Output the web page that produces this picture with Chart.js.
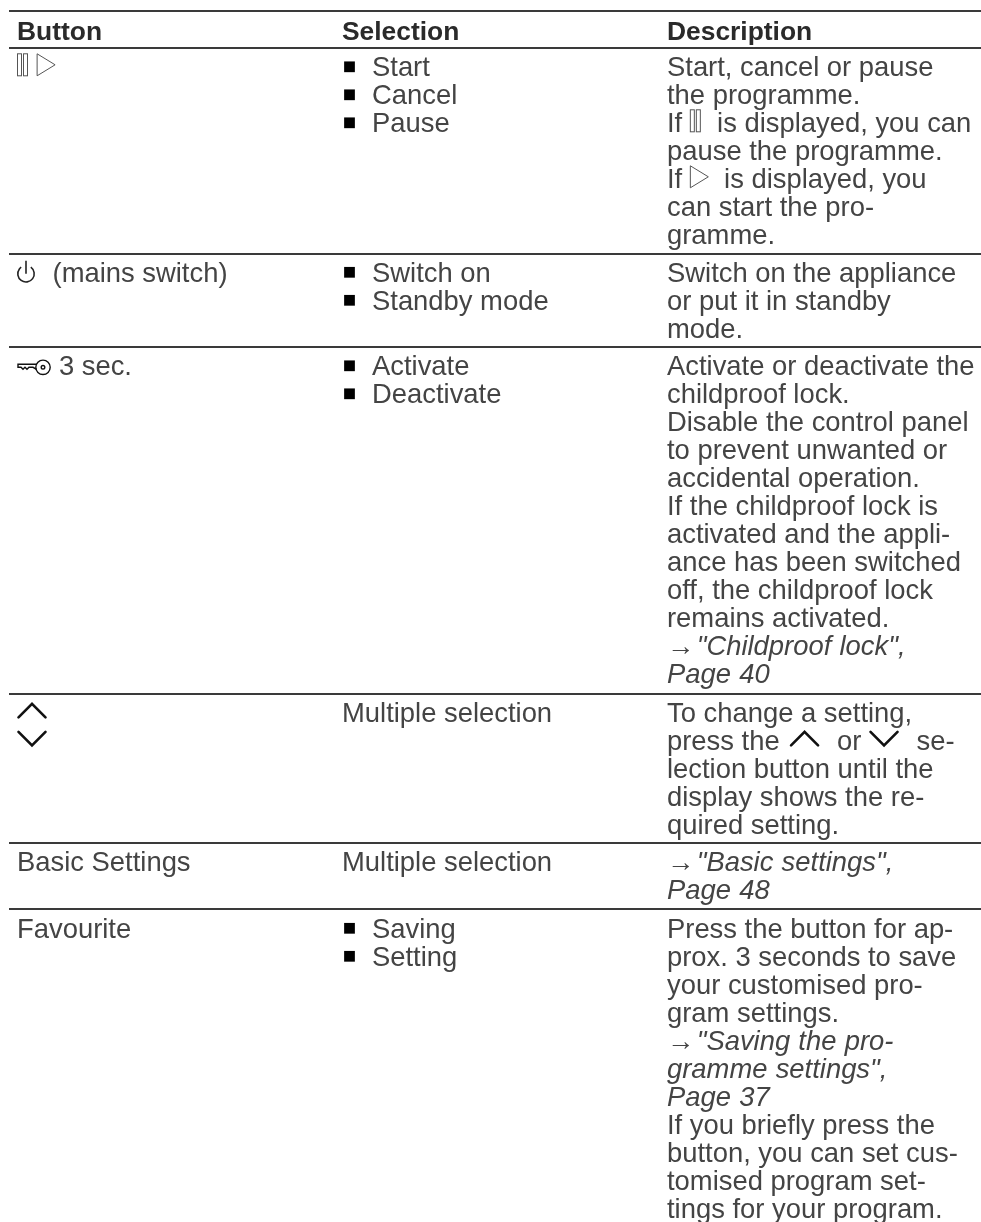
<!DOCTYPE html>
<html>
<head>
<meta charset="utf-8">
<title>Buttons</title>
<script src="https://cdn.jsdelivr.net/npm/chart.js@4"></script>
<style>
  html, body { margin: 0; padding: 0; background: #fff; }
  canvas { display: block; }
</style>
</head>
<body>
<canvas id="table" width="981" height="1222"></canvas>
<script>
const headers = ['Button', 'Selection', 'Description'];

const buttons = [
  ['{pause} {play}'],
  ['{power}  \u200a(mains switch)'],
  ['{key} \u200a3 sec.'],
  ['{up}', '{down}'],
  ['Basic Settings'],
  ['Favourite']
];

const selections = [
  ['Start', 'Cancel', 'Pause'],
  ['Switch on', 'Standby mode'],
  ['Activate', 'Deactivate'],
  ['Multiple selection'],
  ['Multiple selection'],
  ['Saving', 'Setting']
];

const descriptions = [
  ['Start, cancel or pause', 'the programme.', 'If {pause}  is displayed, you can', 'pause the programme.', 'If {play}  is displayed, you', 'can start the pro-', 'gramme.'],
  ['Switch on the appliance', 'or put it in standby', 'mode.'],
  ['Activate or deactivate the', 'childproof lock.', 'Disable the control panel', 'to prevent unwanted or', 'accidental operation.', 'If the childproof lock is', 'activated and the appli-', 'ance has been switched', 'off, the childproof lock', 'remains activated.', '\u2192\u200a"Childproof lock",', 'Page 40'],
  ['To change a setting,', 'press the \u200a{up}  \u200aor {down}  \u200ase-', 'lection button until the', 'display shows the re-', 'quired setting.'],
  ['\u2192\u200a"Basic settings",', 'Page 48'],
  ['Press the button for ap-', 'prox. 3 seconds to save', 'your customised pro-', 'gram settings.', '\u2192\u200a"Saving the pro-', 'gramme settings",', 'Page 37', 'If you briefly press the', 'button, you can set cus-', 'tomised program set-', 'tings for your program.']
];

const linkLines = ['\u2192\u200a"Childproof lock",', 'Page 40', '\u2192\u200a"Basic settings",', 'Page 48', '\u2192\u200a"Saving the pro-', 'gramme settings",', 'Page 37'];

// layout
const W = 981, H = 1222;
const RULES = [11, 48, 253.5, 347, 693.5, 843, 909.5];
const PITCH = 28, FIRST = 28.3;
const COL = [17, 342, 667];
const BULLET_X = 349.5, BULLET_TEXT_X = 372;
const FONT = '"Liberation Sans", sans-serif';
const INK = '#444';

const textPoints = [];
const bulletPoints = [];
headers.forEach((t, c) => textPoints.push({ x: COL[c], y: RULES[0] + 29, text: t, head: true }));
descriptions.forEach((d, r) => {
  const base = (i) => RULES[r + 1] + FIRST + i * PITCH;
  buttons[r].forEach((t, i) => textPoints.push({ x: COL[0], y: base(i), text: t }));
  selections[r].forEach((t, i) => {
    const bulleted = selections[r].length > 1;
    textPoints.push({ x: bulleted ? BULLET_TEXT_X : COL[1], y: base(i), text: t });
    if (bulleted) bulletPoints.push({ x: BULLET_X, y: base(i) - 9.5 });
  });
  d.forEach((t, i) => textPoints.push({ x: COL[2], y: base(i), text: t }));
});

// little glyphs that have no font character, origin is left end of the baseline
const icons = {
  pause: { w: 12, draw(c) {
    c.lineWidth = 1;
    c.strokeStyle = '#555';
    c.strokeRect(0.5, -22.5, 4, 22);
    c.strokeRect(6.5, -22.5, 4, 22);
  } },
  play: { w: 19, draw(c) {
    c.lineWidth = 1;
    c.strokeStyle = '#555';
    c.beginPath();
    c.moveTo(0.5, -22.5); c.lineTo(18.5, -11.5); c.lineTo(0.5, -0.5); c.closePath();
    c.stroke();
  } },
  power: { w: 18, draw(c) {
    c.lineWidth = 1.6;
    c.strokeStyle = '#222';
    c.beginPath();
    c.arc(9, -8, 8.2, -Math.PI * 0.3, Math.PI * 1.3);
    c.stroke();
    c.beginPath();
    c.moveTo(9, -21); c.lineTo(9, -8);
    c.stroke();
  } },
  key: { w: 32, draw(c) {
    c.lineWidth = 1.4;
    c.strokeStyle = '#111';
    c.beginPath(); c.arc(26, -8, 7.2, 0, Math.PI * 2); c.stroke();
    c.beginPath(); c.arc(26, -8, 1.8, 0, Math.PI * 2); c.stroke();
    c.beginPath();
    c.moveTo(19.5, -11); c.lineTo(1, -11); c.lineTo(1, -8); c.lineTo(4, -8); c.lineTo(6, -6); c.lineTo(8, -8);
    c.lineTo(10, -6); c.lineTo(12, -8); c.lineTo(16, -8); c.lineTo(19.5, -6);
    c.stroke();
  } },
  up: { w: 30, draw(c) {
    c.lineWidth = 2.6;
    c.strokeStyle = '#111';
    c.lineCap = 'round';
    c.beginPath();
    c.moveTo(1.5, -4.5); c.lineTo(15, -18); c.lineTo(28.5, -4.5);
    c.stroke();
  } },
  down: { w: 30, draw(c) {
    c.lineWidth = 2.6;
    c.strokeStyle = '#111';
    c.lineCap = 'round';
    c.beginPath();
    c.moveTo(1.5, -18); c.lineTo(15, -4.5); c.lineTo(28.5, -18);
    c.stroke();
  } }
};

const cellText = {
  id: 'cellText',
  afterDatasetsDraw(chart) {
    const c = chart.ctx;
    const meta = chart.getDatasetMeta(0);
    c.save();
    c.textBaseline = 'alphabetic';
    meta.data.forEach((el, i) => {
      const p = textPoints[i];
      const italic = linkLines.includes(p.text);
      c.font = p.head ? 'bold 26.4px ' + FONT : (italic ? 'italic ' : '') + '27.4px ' + FONT;
      c.wordSpacing = p.head ? '0px' : '0.6px';
      c.fillStyle = p.head ? '#2a2a2a' : INK;
      let x = el.x;
      p.text.split(/(\{\w+\})/).filter(Boolean).forEach((part) => {
        const m = part.match(/^\{(\w+)\}$/);
        if (m) {
          const icon = icons[m[1]];
          c.save();
          c.translate(x, el.y);
          icon.draw(c);
          c.restore();
          x += icon.w;
        } else {
          c.fillText(part, x, el.y);
          x += c.measureText(part).width;
        }
      });
    });
    c.restore();
  }
};

new Chart(document.getElementById('table'), {
  type: 'scatter',
  data: {
    datasets: [
      { data: textPoints, pointRadius: 0, pointHoverRadius: 0 },
      { data: bulletPoints, pointStyle: 'rect', pointRadius: 7.6, pointHoverRadius: 7.6, backgroundColor: '#000', borderWidth: 0 }
    ]
  },
  options: {
    responsive: false,
    animation: false,
    events: [],
    layout: { autoPadding: false, padding: { left: 9, right: 0, top: 0, bottom: 0 } },
    plugins: { legend: { display: false }, tooltip: { enabled: false } },
    scales: {
      x: {
        type: 'linear', min: 9, max: W,
        grid: { display: false, drawTicks: false }, border: { display: false },
        ticks: { display: false }
      },
      y: {
        type: 'linear', min: 0, max: H, reverse: true,
        afterBuildTicks(axis) { axis.ticks = RULES.map((value) => ({ value })); },
        grid: { color: '#3a3a3a', lineWidth: 2, drawTicks: false },
        border: { display: false },
        ticks: { display: false }
      }
    }
  },
  plugins: [cellText]
});
</script>
</body>
</html>
